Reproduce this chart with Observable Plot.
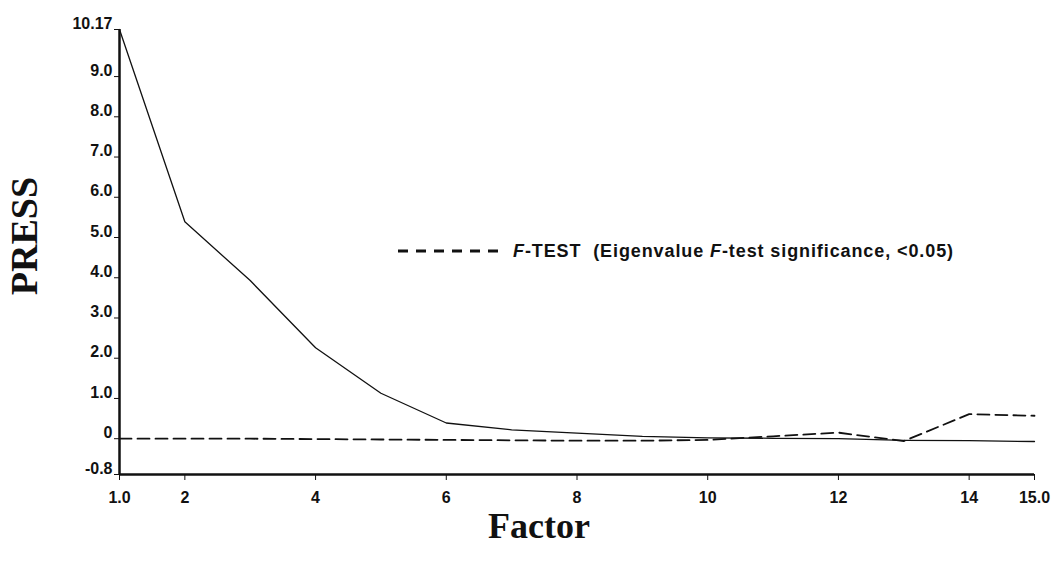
<!DOCTYPE html>
<html><head><meta charset="utf-8">
<script src="https://cdn.jsdelivr.net/npm/d3@7"></script>
<script src="https://cdn.jsdelivr.net/npm/@observablehq/plot@0.6"></script>
<style>
body{margin:0;background:#fff;}
#wrap{position:relative;width:1053px;height:561px;}
#legend{position:absolute;left:398px;top:241px;height:20px;font:bold 18px "Liberation Sans",Arial,sans-serif;letter-spacing:0.9px;color:#111;display:flex;align-items:center;white-space:nowrap;}
#legend svg{margin-right:11px;}
</style></head>
<body><div id="wrap"></div>
<script>
const factors = [1, 2, 3, 4, 5, 6, 7, 8, 9, 10, 11, 12, 13, 14, 15];
const pressValues = [10.17, 5.39, 3.93, 2.26, 1.13, 0.39, 0.22, 0.14, 0.06, 0.02, 0.01, 0.0, -0.04, -0.05, -0.07];
const fTestValues = [0.0, 0.0, 0.0, -0.01, -0.02, -0.03, -0.04, -0.05, -0.05, -0.03, 0.06, 0.15, -0.06, 0.61, 0.57];
const xTicks = [1, 2, 4, 6, 8, 10, 12, 14, 15];
const xTickLabels = ["1.0", "2", "4", "6", "8", "10", "12", "14", "15.0"];
const yTicks = [-0.89, 0, 1, 2, 3, 4, 5, 6, 7, 8, 9, 10.17];
const yTickLabels = ["-0.8", "0", "1.0", "2.0", "3.0", "4.0", "5.0", "6.0", "7.0", "8.0", "9.0", "10.17"];
const xLabel = "Factor";
const yLabel = "PRESS";

const data = factors.map((f, i) => ({factor: f, press: pressValues[i], ftest: fTestValues[i]}));
const sans = "'Liberation Sans', Arial, sans-serif";
const serif = "'Liberation Serif', 'Times New Roman', serif";

const chart = Plot.plot({
  width: 1053, height: 561,
  marginLeft: 119, marginRight: 19, marginTop: 29, marginBottom: 87,
  style: {background: "#fff", fontFamily: sans, color: "#111"},
  x: {domain: [1, 15]},
  y: {domain: [-0.89, 10.17]},
  marks: [
    Plot.axisY({ticks: yTicks, tickFormat: () => "", tickSize: 5, label: null, stroke: "#111"}),
    Plot.text(yTicks, {y: d => d, text: (d, i) => yTickLabels[i], frameAnchor: "left", textAnchor: "end", dx: -7, dy: -6, fontSize: 16, fontWeight: "bold", fill: "#111"}),
    Plot.axisX({ticks: xTicks, tickFormat: d => xTickLabels[xTicks.indexOf(d)], tickSize: 6, tickPadding: 11, fontSize: 16, fontWeight: "bold", label: null, stroke: "#111", fill: "#111"}),
    Plot.ruleX([1], {stroke: "#111", strokeWidth: 2.5}),
    Plot.ruleY([-0.89], {stroke: "#111", strokeWidth: 2.5}),
    Plot.line(data, {x: "factor", y: "press", stroke: "#111", strokeWidth: 1.3}),
    Plot.line(data, {x: "factor", y: "ftest", stroke: "#111", strokeWidth: 1.8, strokeDasharray: "12,6"}),
    Plot.text([yLabel], {frameAnchor: "left", textAnchor: "middle", rotate: -90, dx: -95, dy: -16, fontSize: 38, fontWeight: "bold", fontFamily: serif, fill: "#111"}),
    Plot.text([xLabel], {frameAnchor: "bottom", textAnchor: "middle", dx: -38, dy: 63, fontSize: 36, fontWeight: "bold", fontFamily: serif, fill: "#111"})
  ]
});
const wrap = document.getElementById("wrap");
wrap.appendChild(chart);
const legend = document.createElement("div");
legend.id = "legend";
legend.innerHTML = '<svg width="104" height="10"><line x1="0" y1="5" x2="104" y2="5" stroke="#111" stroke-width="3" stroke-dasharray="10,8"/></svg><span><i>F</i>-TEST&nbsp;&nbsp;(Eigenvalue <i>F</i>-test significance, &lt;0.05)</span>';
wrap.appendChild(legend);
</script>
</body></html>
